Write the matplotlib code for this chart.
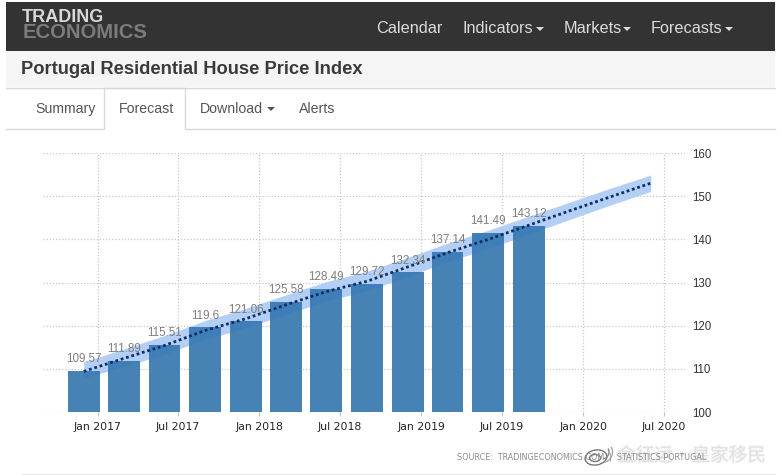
"""
Portugal residential house price index, Trading Economics forecast page.
"""

import matplotlib
matplotlib.use("Agg")
import matplotlib.pyplot as plt
import matplotlib.dates as mdates
import matplotlib.patheffects as pe
from matplotlib.patches import Rectangle, Polygon, Ellipse, Arc
from datetime import date

WIDTH, HEIGHT = 782, 475

# Quarterly bars
bar_dates = [date(2016, 12, 1), date(2017, 3, 1), date(2017, 6, 1), date(2017, 9, 1),
             date(2017, 12, 1), date(2018, 3, 1), date(2018, 6, 1), date(2018, 9, 1),
             date(2018, 12, 1), date(2019, 3, 1), date(2019, 6, 1), date(2019, 9, 1)]
bar_values = [109.57, 111.89, 115.51, 119.6, 121.06, 125.58,
              128.49, 129.72, 132.34, 137.14, 141.49, 143.12]
bar_labels = ["109.57", "111.89", "115.51", "119.6", "121.06", "125.58",
              "128.49", "129.72", "132.34", "137.14", "141.49", "143.12"]

# Forecast line and confidence band
forecast_dates = bar_dates + [date(2019, 12, 1), date(2020, 3, 1), date(2020, 6, 1)]
forecast_values = [109.4, 112.4, 115.4, 118.9, 121.6, 124.8, 127.9, 130.3,
                   133.6, 136.9, 140.0, 143.3, 146.6, 149.8, 153.0]
forecast_upper = [111.6, 114.6, 117.7, 121.2, 124.0, 127.1, 130.2, 132.6,
                  135.8, 139.1, 142.1, 145.4, 148.6, 151.8, 154.9]
forecast_lower = [107.9, 110.5, 113.4, 116.8, 119.5, 122.6, 125.7, 128.1,
                  131.4, 134.8, 137.9, 141.2, 144.6, 147.9, 151.1]

x_ticks = [date(2017, 1, 1), date(2017, 7, 1), date(2018, 1, 1), date(2018, 7, 1),
           date(2019, 1, 1), date(2019, 7, 1), date(2020, 1, 1), date(2020, 7, 1)]
y_ticks = [100, 110, 120, 130, 140, 150, 160]

nav_items = ["Calendar", "Indicators", "Markets", "Forecasts"]
nav_x = [376, 462, 563.5, 651]
tab_items = ["Summary", "Forecast", "Download", "Alerts"]
tab_x = [35, 119, 200, 298.5]

plt.rcParams["font.family"] = ["Liberation Sans", "DejaVu Sans"]

fig = plt.figure(figsize=(WIDTH / 100, HEIGHT / 100), dpi=100)

# page chrome, drawn in pixel coordinates
page = fig.add_axes([0, 0, 1, 1], zorder=0)
page.set_xlim(0, WIDTH)
page.set_ylim(HEIGHT, 0)
page.axis("off")

page.add_patch(Rectangle((6, 2), 769, 49, color="#333333", lw=0))
page.add_patch(Rectangle((6, 51), 769, 36, color="#f5f5f6", lw=0))
page.plot([6, 775], [87.5, 87.5], color="#d8d8d8", lw=1)
page.plot([6, 104, 104, 185, 185, 775], [128.5, 128.5, 88, 88, 128.5, 128.5],
          color="#d8d8d8", lw=1)
page.plot([22, 775], [473.5, 473.5], color="#e8e8e8", lw=1)

page.text(22, 17.5, "TRADING", color="#d8d8d8", fontsize=13, fontweight="bold", va="center")
page.text(23, 32, "ECONOMICS", color="#7c7c7c", fontsize=14.6, fontweight="bold", va="center")

for label, x in zip(nav_items, nav_x):
    page.text(x, 28.5, label, color="#dcdcdc", fontsize=11.7, va="center")
for x in [540, 627, 729]:
    page.add_patch(Polygon([[x - 4, 27], [x + 4, 27], [x, 31]], color="#dcdcdc", lw=0))

page.text(21, 69, "Portugal Residential House Price Index", color="#3a3a3a",
          fontsize=13.2, fontweight="bold", va="center")

for label, x in zip(tab_items, tab_x):
    page.text(x, 109, label, color="#555555", fontsize=10.2, va="center")
page.add_patch(Polygon([[267, 107], [275, 107], [271, 111]], color="#555555", lw=0))

# chart
ax_left, ax_right, ax_top, ax_bottom = 43, 685, 153, 412
ax = fig.add_axes([ax_left / WIDTH, 1 - ax_bottom / HEIGHT,
                   (ax_right - ax_left) / WIDTH, (ax_bottom - ax_top) / HEIGHT], zorder=1)
ax.patch.set_alpha(0)

bar_x = mdates.date2num(bar_dates)
forecast_x = mdates.date2num(forecast_dates)

# band shows pale on white and only faintly over the bars
ax.fill_between(forecast_x, forecast_lower, forecast_upper, color="#c7dcf9", lw=0, zorder=1.5)
ax.bar(bar_x, bar_values, width=72, color="#4682b4", zorder=2)
ax.fill_between(forecast_x, forecast_lower, forecast_upper, color="#0562e4", alpha=0.1, lw=0, zorder=3)
ax.plot(forecast_x, forecast_values, color="#0f2f63", lw=2, ls=(0, (1, 1)), zorder=4)

for x, value, label in zip(bar_x, bar_values, bar_labels):
    ax.annotate(label, (x, value), xytext=(0, 4), textcoords="offset points", ha="center",
                va="bottom", fontsize=8.4, color="#7f7f7f", zorder=5)

# 97.5 px = Jan 2017, 664 px = Jul 2020
jan17 = mdates.date2num(date(2017, 1, 1))
px_per_day = (664 - 97.5) / (mdates.date2num(date(2020, 7, 1)) - jan17)
ax.set_xlim(jan17 - (97.5 - ax_left) / px_per_day, jan17 + (ax_right - 97.5) / px_per_day)
ax.set_ylim(100, 160)

ax.set_xticks(mdates.date2num(x_ticks))
ax.xaxis.set_major_formatter(mdates.DateFormatter("%b %Y"))
ax.set_yticks(y_ticks)
ax.yaxis.tick_right()
ax.grid(True, color="#c8c8c8", lw=0.9, ls=(0, (1, 1.5)), zorder=1)
ax.set_axisbelow(True)
for spine in ax.spines.values():
    spine.set_visible(False)
ax.tick_params(axis="x", length=3, width=0.8, color="#c4c4c4", pad=4, labelsize=7.8,
               labelcolor="#222222")
ax.tick_params(axis="y", length=0, pad=5, labelsize=8.3, labelcolor="#333333")
for label in ax.get_xticklabels():
    label.set_family("DejaVu Sans")

# source line and watermark over the chart
overlay = fig.add_axes([0, 0, 1, 1], zorder=2)
overlay.set_xlim(0, WIDTH)
overlay.set_ylim(HEIGHT, 0)
overlay.axis("off")

overlay.add_patch(Ellipse((596, 457.5), 22, 15, angle=-10, fill=False, ec="#777777", lw=1))
overlay.add_patch(Ellipse((595, 458), 11, 7, fill=False, ec="#777777", lw=1))
overlay.add_patch(Arc((602, 452), 14, 14, theta1=-30, theta2=80, ec="#888888", lw=1))
overlay.add_patch(Arc((602, 452), 21, 21, theta1=-30, theta2=80, ec="#aaaaaa", lw=1))
overlay.text(617, 456, "金征运·皇家移民", color="#e0e0e0", fontsize=13.4, va="center", zorder=3,
             family=["Noto Sans CJK SC", "DejaVu Sans"],
             path_effects=[pe.withStroke(linewidth=1.5, foreground="#f6f6f6")])
overlay.text(457, 458, "SOURCE:  TRADINGECONOMICS.COM  |  STATISTICS PORTUGAL", color="#8a8a8a",
             fontsize=5.75, va="center", family="DejaVu Sans", zorder=4)

fig.savefig("out.png", dpi=100)
